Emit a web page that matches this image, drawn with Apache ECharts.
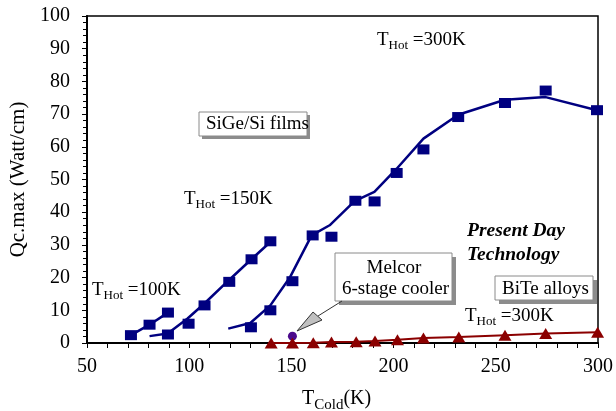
<!DOCTYPE html>
<html>
<head>
<meta charset="utf-8">
<script src="https://cdn.jsdelivr.net/npm/echarts@6/dist/echarts.min.js"></script>
<style>
html,body{margin:0;padding:0;background:#fff;}
#chart{width:616px;height:411px;}
</style>
</head>
<body>
<div id="chart"></div>
<script>
// ---- data ----
const xTickValues = [50, 100, 150, 200, 250, 300];
const yTickValues = [0, 10, 20, 30, 40, 50, 60, 70, 80, 90, 100];

// T_Hot = 100K (SiGe/Si)
const hot100X = [71.5, 80.6, 89.6];
const hot100Y = [2.4, 5.6, 9.3];

// T_Hot = 150K (SiGe/Si)
const hot150X = [89.6, 99.7, 107.5, 119.6, 130.5, 139.7];
const hot150Y = [2.6, 5.9, 11.5, 18.7, 25.6, 31.1];
const hot150FitX = [80.6, 89.5, 99.2, 107.3, 119.4, 129.9, 139.7];
const hot150FitY = [2.1, 2.9, 7.5, 12.0, 19.2, 25.3, 30.9];

// T_Hot = 300K (SiGe/Si)
const hot300X = [130.2, 139.7, 150.5, 160.4, 169.6, 181.3, 190.7, 201.5, 214.6, 231.6, 254.5, 274.4, 299.5];
const hot300Y = [4.8, 10.0, 18.9, 32.9, 32.5, 43.5, 43.3, 52.0, 59.2, 69.1, 73.4, 77.2, 71.2];
const hot300FitX = [119.1, 129.9, 139.7, 149.4, 159.9, 168.7, 180.9, 190.6, 201.5, 214.6, 231.6, 254.5, 274.4, 299.5];
const hot300FitY = [4.4, 6.1, 11.5, 20.2, 32.9, 36.0, 43.4, 46.2, 53.3, 62.5, 69.8, 74.4, 75.2, 71.2];

// BiTe alloys, T_Hot = 300K
const biteX = [140.1, 150.5, 160.7, 169.6, 181.7, 190.9, 201.9, 214.6, 231.9, 254.5, 274.4, 299.8];
const biteY = [0, 0, 0.1, 0.3, 0.4, 0.6, 1.0, 1.5, 1.8, 2.4, 2.9, 3.3];

// Melcor 6-stage cooler
const melcorX = [150.5];
const melcorY = [2.1];

// ---- build ----
const zip = (xs, ys) => xs.map((x, i) => [x, ys[i]]);
const SERIF = '"Liberation Serif", "Times New Roman", serif';
const NAVY = '#000080';
const DRED = '#8b0000';

const mctx = document.createElement('canvas').getContext('2d');
function measure(t, size, extra) {
  mctx.font = (extra ? extra + ' ' : '') + size + 'px ' + SERIF;
  return mctx.measureText(t).width;
}
function subLabel(x, yc, main, sub, rest, mainSize, subSize, dy) {
  const w1 = measure(main, mainSize);
  const w2 = measure(sub, subSize);
  const base = {fill: '#000', fontFamily: SERIF, verticalAlign: 'middle', align: 'left'};
  return [
    {type: 'text', x: x, y: yc, z: 100, style: Object.assign({}, base, {text: main, fontSize: mainSize})},
    {type: 'text', x: x + w1, y: yc + dy, z: 100, style: Object.assign({}, base, {text: sub, fontSize: subSize})},
    {type: 'text', x: x + w1 + w2, y: yc, z: 100, style: Object.assign({}, base, {text: rest, fontSize: mainSize})}
  ];
}
function box(x, y, w, h, off) {
  return [
    {type: 'rect', z: 90, shape: {x: x + off, y: y + off, width: w, height: h}, style: {fill: '#8c8c8c'}},
    {type: 'rect', z: 91, shape: {x: x, y: y, width: w, height: h}, style: {fill: '#fff', stroke: '#8a8a8a', lineWidth: 1}}
  ];
}
function txt(x, y, t, size, extra, align) {
  return {type: 'text', x: x, y: y, z: 100, style: {text: t, fill: '#000', fontFamily: SERIF, fontSize: size,
    fontWeight: extra && extra.bold ? 'bold' : 'normal', fontStyle: extra && extra.italic ? 'italic' : 'normal',
    verticalAlign: 'middle', align: align || 'left'}};
}

const graphics = [].concat(
  subLabel(377, 40, 'T', 'Hot', ' =300K', 19, 13, 6),
  subLabel(184, 199, 'T', 'Hot', ' =150K', 19, 13, 6),
  subLabel(92, 290, 'T', 'Hot', ' =100K', 19, 13, 6),
  subLabel(465, 316, 'T', 'Hot', ' =300K', 19, 13, 6),
  subLabel(302, 399, 'T', 'Cold', '(K)', 20, 15, 6),
  box(199, 112, 108, 24, 3),
  [txt(206, 124, 'SiGe/Si films', 19)],
  box(335, 253, 117, 48, 4),
  [txt(394, 268, 'Melcor', 19, null, 'center'), txt(342, 289, '6-stage cooler', 19)],
  box(495, 276, 98, 24, 4),
  [txt(502, 289, 'BiTe alloys', 19)],
  [txt(467, 231, 'Present Day', 19.5, {bold: true, italic: true}),
   txt(467, 255, 'Technology', 19.5, {bold: true, italic: true})],
  [
    {type: 'line', z: 95, shape: {x1: 318, y1: 316, x2: 342, y2: 301}, style: {stroke: '#333', lineWidth: 1}},
    {type: 'polygon', z: 96, shape: {points: [[297, 331], [313, 312], [322, 320]]}, style: {fill: '#c0c0c0', stroke: '#333', lineWidth: 1}}
  ]
);

const chart = echarts.init(document.getElementById('chart'), null, {renderer: 'canvas'});
chart.setOption({
  animation: false,
  backgroundColor: '#fff',
  grid: {left: 87, right: 14, top: 16, bottom: 68, show: true, borderColor: '#000', borderWidth: 1.5, backgroundColor: 'transparent'},
  xAxis: {
    type: 'value', min: xTickValues[0], max: xTickValues[xTickValues.length - 1], interval: 50,
    axisLine: {show: true, onZero: false, lineStyle: {color: '#000', width: 2}},
    axisTick: {show: true, inside: false, length: 5, lineStyle: {color: '#000', width: 1}},
    minorTick: {show: true, splitNumber: 5, length: 5, lineStyle: {color: '#000', width: 1}},
    splitLine: {show: false},
    axisLabel: {color: '#000', fontFamily: SERIF, fontSize: 20, margin: 14}
  },
  yAxis: {
    type: 'value', min: yTickValues[0], max: yTickValues[yTickValues.length - 1], interval: 10,
    name: 'Qc.max (Watt/cm)', nameLocation: 'middle', nameRotate: 90, nameGap: 56,
    nameTextStyle: {color: '#000', fontFamily: SERIF, fontSize: 21},
    axisLine: {show: true, lineStyle: {color: '#000', width: 2}},
    axisTick: {show: true, inside: false, length: 5, lineStyle: {color: '#000', width: 1}},
    minorTick: {show: true, splitNumber: 5, length: 4, lineStyle: {color: '#000', width: 1}},
    splitLine: {show: false},
    axisLabel: {color: '#000', fontFamily: SERIF, fontSize: 20, margin: 17}
  },
  series: [
    {type: 'line', name: '100K', data: zip(hot100X, hot100Y), symbol: 'rect', symbolSize: [12, 10], clip: false,
      lineStyle: {color: NAVY, width: 2.5}, itemStyle: {color: NAVY}},
    {type: 'line', name: '150K fit', data: zip(hot150FitX, hot150FitY), showSymbol: false, symbol: 'none', clip: false,
      lineStyle: {color: NAVY, width: 2.5}},
    {type: 'scatter', name: '150K', data: zip(hot150X, hot150Y), symbol: 'rect', symbolSize: [12, 10], itemStyle: {color: NAVY, opacity: 1}},
    {type: 'line', name: '300K fit', data: zip(hot300FitX, hot300FitY), showSymbol: false, symbol: 'none', clip: false,
      lineStyle: {color: NAVY, width: 2.5}},
    {type: 'scatter', name: '300K', data: zip(hot300X, hot300Y), symbol: 'rect', symbolSize: [12, 10], clip: false, itemStyle: {color: NAVY, opacity: 1}},
    {type: 'line', name: 'BiTe', data: zip(biteX, biteY), symbol: 'triangle', symbolSize: [13, 11], clip: false,
      lineStyle: {color: DRED, width: 2}, itemStyle: {color: DRED}},
    {type: 'scatter', name: 'Melcor', data: zip(melcorX, melcorY), symbol: 'circle', symbolSize: 9, clip: false,
      itemStyle: {color: '#4b0a8c', opacity: 1}}
  ],
  graphic: graphics
});
</script>
</body>
</html>
